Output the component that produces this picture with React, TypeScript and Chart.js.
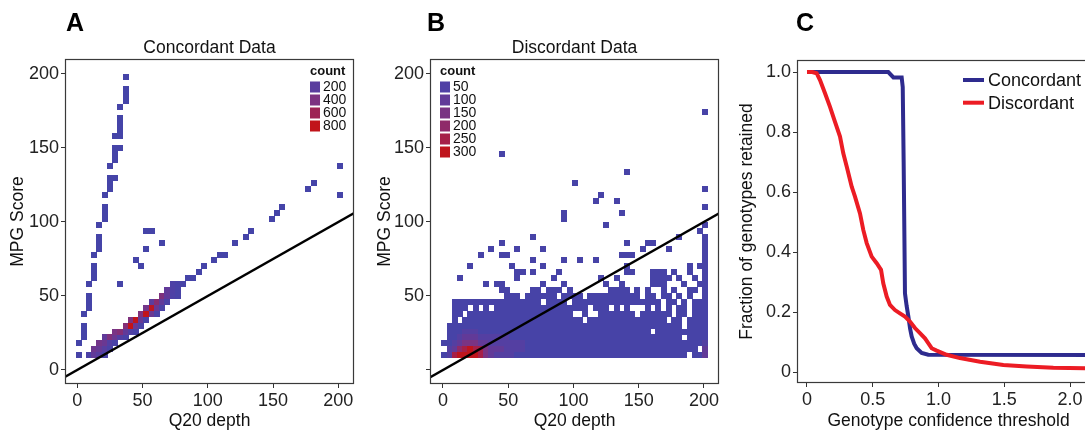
import React, { useEffect, useRef } from 'react';
import { Chart, registerables } from 'chart.js';

Chart.register(...registerables);

const FONT_FAMILY = '"Liberation Sans", Arial, Helvetica, sans-serif';

// ---------- Panels A & B : binned (Q20 depth, MPG score) counts ----------
// Bin centres along Q20 depth (one per grid column of panel B)
const DEPTH_BINS = [
  1, 5, 9, 13, 17, 21, 25, 29, 33, 37, 41, 45, 49, 53, 57, 61, 65, 69, 73, 77,
  81, 85, 89, 93, 97, 101, 105, 109, 113, 117, 121, 125, 129, 133, 137, 141, 145, 149, 153, 157,
  161, 165, 169, 173, 177, 181, 185, 189, 193, 197, 201,
];

// Concordant data (panel A): [Q20 depth, MPG score, count]
const CONC_CELLS: number[][] = [
  // steep arm
  [1, 10, 25], [1, 18, 12], [5, 22, 12], [5, 26, 12], [5, 30, 12], [5, 38, 12],
  [9, 42, 12], [9, 46, 12], [9, 50, 12], [9, 58, 12], [13, 62, 12], [13, 66, 12],
  [13, 70, 12], [13, 78, 12], [17, 82, 12], [17, 86, 12], [17, 90, 12], [17, 98, 12],
  [21, 102, 12], [21, 106, 12], [21, 110, 12], [21, 118, 12], [25, 122, 12], [25, 126, 12],
  [25, 130, 12], [29, 130, 12], [25, 138, 12], [29, 142, 12], [29, 146, 12], [29, 150, 12],
  [33, 150, 12], [29, 158, 12], [33, 158, 12], [33, 162, 12], [33, 166, 12], [33, 170, 12],
  [33, 178, 12], [37, 182, 12], [37, 186, 12], [37, 190, 12], [37, 198, 12],
  // scattered middle cells
  [33, 58, 10], [45, 74, 10], [49, 70, 10], [53, 82, 10], [53, 94, 10], [57, 94, 10], [65, 86, 10],
  // dense diagonal band
  [9, 10, 90], [13, 10, 250], [17, 10, 180], [21, 10, 60],
  [13, 14, 320], [17, 14, 280], [21, 14, 180], [25, 14, 70],
  [17, 18, 350], [21, 18, 300], [25, 18, 150], [29, 18, 50],
  [21, 22, 250], [25, 22, 420], [29, 22, 300], [33, 22, 150], [37, 22, 50],
  [29, 26, 380], [33, 26, 450], [37, 26, 250], [41, 26, 120], [45, 26, 40],
  [37, 30, 450], [41, 30, 820], [45, 30, 300], [49, 30, 80],
  [41, 34, 420], [45, 34, 780], [49, 34, 280], [53, 34, 60],
  [49, 38, 420], [53, 38, 800], [57, 38, 300], [61, 38, 80],
  [53, 42, 350], [57, 42, 760], [61, 42, 300], [65, 42, 80],
  [57, 46, 200], [61, 46, 480], [65, 46, 250], [69, 46, 80],
  [65, 50, 420], [69, 50, 250], [73, 50, 100], [77, 50, 40],
  [69, 54, 250], [73, 54, 120], [77, 54, 40],
  [73, 58, 100], [77, 58, 60], [81, 58, 40],
  // upper diagonal
  [85, 62, 10], [89, 62, 10], [93, 66, 10], [97, 70, 10], [105, 74, 10], [109, 78, 10],
  [113, 78, 10], [121, 86, 10], [129, 90, 10], [133, 94, 10], [149, 102, 10], [153, 106, 10],
  [157, 110, 10], [177, 122, 10], [181, 126, 10], [201, 118, 10], [201, 138, 10],
];

// Discordant data (panel B): one string per score row (top row first),
// one character per depth bin; '.' = empty, digits = count level
const DISC_ROW_SCORES = [
  174, 170, 166, 162, 158, 154, 150, 146, 142, 138, 134, 130, 126, 122, 118, 114, 110, 106, 102, 98, 94,
  90, 86, 82, 78, 74, 70, 66, 62, 58, 54, 50, 46, 42, 38, 34, 30, 26, 22, 18, 14, 10,
];
const DISC_ROWS = [
  '.......... .......... .......... .......... .......... 1',
  '.......... .......... .......... .......... .......... .',
  '.......... .......... .......... .......... .......... .',
  '.......... .......... .......... .......... .......... .',
  '.......... .......... .......... .......... .......... .',
  '.......... .......... .......... .......... .......... .',
  '.......... .......... .......... .......... .......... .',
  '.......... .1........ .......... .......... .......... .',
  '.......... .......... .......... .......... .......... .',
  '.......... .......... .......... .......... .......... .',
  '.......... .......... .......... .....1.... .......... .',
  '.......... .......... .......... .......... .......... .',
  '.......... .......... .....1.... .......... .......... .',
  '.......... .......... .......... .......... .......... 1',
  '.......... .......... .......... 1......... .......... .',
  '.......... .......... .........1 ...1...... .......... .',
  '.......... .......... .......... .......... .......... 1',
  '.......... .......... ...1...... ....1..... .......... .',
  '.......... .......... ...1...... .......... .......... .',
  '.......... .......... .......... .1........ .......... 1',
  '.......... .......... .......... .......... .........1 .',
  '.......... .......1.. .......... .......... .....1.... 1',
  '.......... .1........ .......... .....1...1 1......... 1',
  '.........1 ....1....1 .......... ........1. ...1...... 1',
  '.......1.. .11....... .......... ....111... .......... 1',
  '.......... .......1.. ...1..1..1 .......... .......... 1',
  '.....1.... ...1.....1 .......... .....1.... .......1.1 1',
  '.......... ....11.1.. ..1....... .....11... 111.1..1.. 1',
  '...1...... ....1..... .1........ 1..1...... 1111.1..1. 1',
  '........1. 11.......1 ...1...... .1..1..... 111...1..1 1',
  '.......... .11....11. 111.1..... ..1111.1.1 ..1.1..11. 1',
  '.......... ..111.1111 11.1111.11 11111111.1 1.11.1.1.. 1',
  '..11111111 111111111. 1111.11111 1111111111 11.11.1.11 1',
  '..111.1.1. 1111111111 11111111.1 11.1.1...1 .1.1.11.11 1',
  '..11.11111 1111111111 11111..1.. 1111111.11 1111.11.11 1',
  '..1.111111 1111111111 1111111.11 1111111111 111.11.111 1',
  '.111111111 1111111111 1111111111 1111111111 111111.111 1',
  '.111222111 1111111111 1111111111 1111111111 .111111111 1',
  '.112333222 2221111111 1111111111 1111111111 111111.111 1',
  '1123444332 2222221111 1111111111 1111111111 1111111111 2',
  '.235676643 3322221111 1111111111 1111111111 111111111. 3',
  '1267777643 2222111111 1111111111 1111111111 1111111.11 3',
];
const DISC_LEVEL_COUNTS: Record<string, number> = {
  '1': 12, '2': 60, '3': 100, '4': 150, '5': 200, '6': 250, '7': 300,
};

const CONC_MAX_COUNT = 860;
const DISC_MAX_COUNT = 330;
const CONC_LEGEND = [200, 400, 600, 800];
const DISC_LEGEND = [50, 100, 150, 200, 250, 300];

const DEPTH_TICKS = [0, 50, 100, 150, 200];
const DEPTH_LABELS = ['0', '50', '100', '150', '200'];
const SCORE_TICKS = [0, 50, 100, 150, 200];
const CONC_SCORE_LABELS = ['0', '50', '100', '150', '200'];
const DISC_SCORE_LABELS = ['', '50', '100', '150', '200'];

// threshold line: MPG score = Q20 depth / 2
const CUTOFF_SLOPE = 0.5;
const CUTOFF_DEPTH = [-20, 230];

// ---------- Panel C ----------
const THRESH_TICKS = [0, 0.5, 1, 1.5, 2];
const THRESH_LABELS = ['0', '0.5', '1.0', '1.5', '2.0'];
const FRAC_TICKS = [0, 0.2, 0.4, 0.6, 0.8, 1];
const FRAC_LABELS = ['0', '0.2', '0.4', '0.6', '0.8', '1.0'];

const CONC_THRESH = [0, 0.618, 0.657, 0.72, 0.728, 0.735, 0.745, 0.758, 0.771, 0.784, 0.796, 0.815, 0.834, 0.872, 0.922, 2.25];
const CONC_FRAC = [1, 1, 0.982, 0.982, 0.95, 0.7, 0.263, 0.22, 0.185, 0.145, 0.119, 0.095, 0.08, 0.064, 0.058, 0.057];

const DISC_THRESH = [
  0, 0.04, 0.073, 0.099, 0.137, 0.175, 0.213, 0.251, 0.276, 0.302, 0.34, 0.365, 0.403, 0.428, 0.454,
  0.492, 0.53, 0.563, 0.58, 0.606, 0.631, 0.669, 0.707, 0.745, 0.783, 0.821, 0.859, 0.897, 0.922,
  0.948, 0.986, 1.062, 1.163, 1.316, 1.493, 1.671, 1.873, 2.114, 2.25,
];
const DISC_FRAC = [
  1, 1, 0.996, 0.973, 0.929, 0.884, 0.834, 0.785, 0.729, 0.685, 0.618, 0.585, 0.529, 0.474, 0.43,
  0.385, 0.363, 0.341, 0.296, 0.252, 0.224, 0.207, 0.196, 0.185, 0.169, 0.147, 0.13, 0.113, 0.097,
  0.08, 0.072, 0.058, 0.047, 0.035, 0.024, 0.019, 0.015, 0.013, 0.013,
];

const CONC_LINE_COLOR = '#2E2B8E';
const DISC_LINE_COLOR = '#EC1C24';

// ---------- helpers ----------
const RAMP: [number, number[]][] = [
  [0, [68, 68, 168]],
  [0.15, [80, 64, 165]],
  [0.3, [98, 58, 152]],
  [0.45, [122, 52, 132]],
  [0.6, [142, 42, 106]],
  [0.75, [165, 32, 74]],
  [0.9, [190, 22, 30]],
  [1, [200, 16, 16]],
];

function countColor(count: number, max: number): string {
  const t = Math.max(0, Math.min(1, (count - 1) / (max - 1)));
  for (let k = 1; k < RAMP.length; k++) {
    const [t1, c1] = RAMP[k];
    const [t0, c0] = RAMP[k - 1];
    if (t <= t1) {
      const f = (t - t0) / (t1 - t0);
      const c = c0.map((v, i) => Math.round(v + (c1[i] - v) * f));
      return `rgb(${c[0]},${c[1]},${c[2]})`;
    }
  }
  return 'rgb(200,16,16)';
}

type Cell = { x: number; y: number; count: number };

const concCells: Cell[] = CONC_CELLS.map(([x, y, count]) => ({ x, y, count }));
const discCells: Cell[] = [];
DISC_ROWS.forEach((row, r) => {
  const chars = row.replace(/ /g, '');
  for (let k = 0; k < chars.length && k < DEPTH_BINS.length; k++) {
    const ch = chars[k];
    if (ch !== '.') discCells.push({ x: DEPTH_BINS[k], y: DISC_ROW_SCORES[r], count: DISC_LEVEL_COUNTS[ch] });
  }
});

// square tile used as point style for one heat-map bin
const CELL_W = 6;
const CELL_H = 6;
const tileCache = new Map<string, HTMLCanvasElement>();
function cellTile(color: string): HTMLCanvasElement {
  let c = tileCache.get(color);
  if (!c) {
    c = document.createElement('canvas');
    c.width = CELL_W;
    c.height = CELL_H;
    const g = c.getContext('2d') as CanvasRenderingContext2D;
    g.fillStyle = color;
    g.fillRect(0, 0, CELL_W, CELL_H);
    tileCache.set(color, c);
  }
  return c;
}

const TICK_FONT = { family: FONT_FAMILY, size: 18 };
const TITLE_FONT = { family: FONT_FAMILY, size: 17.5, weight: 'normal' as const };
const TICK_COLOR = '#222';
const TITLE_COLOR = '#111';

const panelBorder = {
  id: 'panelBorder',
  afterDraw(chart: any) {
    const { ctx, chartArea: a } = chart;
    ctx.save();
    ctx.strokeStyle = '#3a3a3a';
    ctx.lineWidth = 1.2;
    ctx.strokeRect(Math.round(a.left) + 0.5, Math.round(a.top) + 0.5, Math.round(a.right - a.left) - 1, Math.round(a.bottom - a.top) - 1);
    ctx.restore();
  },
};

function countLegend(levels: number[], max: number, side: 'left' | 'right') {
  return {
    id: 'countLegend',
    afterDraw(chart: any) {
      const { ctx, chartArea: a } = chart;
      const x0 = side === 'left' ? a.left + 10 : a.right - 44;
      ctx.save();
      ctx.textAlign = 'left';
      ctx.textBaseline = 'middle';
      ctx.fillStyle = '#111';
      ctx.font = `bold 13px ${FONT_FAMILY}`;
      ctx.fillText('count', x0, a.top + 12.5);
      ctx.font = `14px ${FONT_FAMILY}`;
      levels.forEach((lv, k) => {
        const cy = a.top + 28 + k * 13;
        ctx.fillStyle = countColor(lv, max);
        ctx.fillRect(x0, cy - 5.5, 10, 11);
        ctx.fillStyle = '#111';
        ctx.fillText(String(lv), x0 + 13, cy + 0.5);
      });
      ctx.restore();
    },
  };
}

const lineLegend = {
  id: 'lineLegend',
  afterDraw(chart: any) {
    const { ctx, chartArea: a } = chart;
    const items = chart.data.datasets.map((d: any) => ({ label: d.label, color: d.borderColor }));
    ctx.save();
    ctx.font = `18px ${FONT_FAMILY}`;
    ctx.textAlign = 'left';
    ctx.textBaseline = 'middle';
    items.forEach((it: any, k: number) => {
      const cy = a.top + 20 + k * 22.7;
      ctx.strokeStyle = it.color;
      ctx.lineWidth = 4;
      ctx.beginPath();
      ctx.moveTo(a.left + 166, cy);
      ctx.lineTo(a.left + 187, cy);
      ctx.stroke();
      ctx.fillStyle = '#111';
      ctx.fillText(it.label, a.left + 191, cy + 1);
    });
    ctx.restore();
  },
};

function axisBase() {
  return {
    type: 'linear' as const,
    border: { display: false },
    grid: { drawOnChartArea: false, drawTicks: true, tickLength: 4, color: '#333', lineWidth: 1 },
  };
}

function heatmapConfig(p: {
  cells: Cell[];
  max: number;
  title: string;
  yLabels: string[];
  legendLevels: number[];
  legendSide: 'left' | 'right';
  xMin: number;
  xMax: number;
  padRight: number;
  yTitlePad: number;
}): any {
  return {
    type: 'scatter',
    data: {
      datasets: [
        {
          type: 'line',
          data: CUTOFF_DEPTH.map((d) => ({ x: d, y: d * CUTOFF_SLOPE })),
          borderColor: '#000',
          borderWidth: 2.4,
          pointRadius: 0,
          fill: false,
          showLine: true,
          clip: 0,
          order: 0,
        },
        {
          type: 'scatter',
          data: p.cells.map((c) => ({ x: c.x, y: c.y })),
          pointStyle: p.cells.map((c) => cellTile(countColor(c.count, p.max))),
          pointRadius: 3,
          pointBorderWidth: 0,
          pointBackgroundColor: p.cells.map((c) => countColor(c.count, p.max)),
          order: 1,
        },
      ],
    },
    options: {
      responsive: false,
      animation: false,
      events: [],
      layout: { padding: { left: 0, right: p.padRight, top: 0, bottom: 0 } },
      plugins: {
        legend: { display: false },
        tooltip: { enabled: false },
        title: {
          display: true,
          text: p.title,
          fullSize: false,
          color: TITLE_COLOR,
          font: TITLE_FONT,
          padding: { top: 37.5, bottom: 0.5 },
        },
      },
      scales: {
        x: {
          ...axisBase(),
          min: p.xMin,
          max: p.xMax,
          afterBuildTicks: (s: any) => { s.ticks = DEPTH_TICKS.map((v) => ({ value: v })); },
          afterFit: (s: any) => { s.height = 48; },
          ticks: {
            autoSkip: false, maxRotation: 0, minRotation: 0, padding: 2,
            color: TICK_COLOR, font: TICK_FONT,
            callback: (_v: any, i: number) => DEPTH_LABELS[i],
          },
          title: { display: true, text: 'Q20 depth', color: TITLE_COLOR, font: TITLE_FONT, padding: { top: 0, bottom: 0 } },
        },
        y: {
          ...axisBase(),
          min: -9.46,
          max: 210.1,
          afterBuildTicks: (s: any) => { s.ticks = SCORE_TICKS.map((v) => ({ value: v })); },
          afterFit: (s: any) => { s.width = 65; },
          ticks: {
            autoSkip: false, padding: 2, color: TICK_COLOR, font: TICK_FONT,
            callback: (_v: any, i: number) => p.yLabels[i],
          },
          title: { display: true, text: 'MPG Score', color: TITLE_COLOR, font: TITLE_FONT, padding: { top: p.yTitlePad, bottom: 0 } },
        },
      },
    },
    plugins: [panelBorder, countLegend(p.legendLevels, p.max, p.legendSide)],
  };
}

function retentionConfig(): any {
  return {
    type: 'line',
    data: {
      datasets: [
        {
          label: 'Concordant',
          data: CONC_THRESH.map((x, i) => ({ x, y: CONC_FRAC[i] })),
          borderColor: CONC_LINE_COLOR,
          borderWidth: 4,
          pointRadius: 0,
          tension: 0,
          fill: false,
          clip: 0,
          order: 1,
        },
        {
          label: 'Discordant',
          data: DISC_THRESH.map((x, i) => ({ x, y: DISC_FRAC[i] })),
          borderColor: DISC_LINE_COLOR,
          borderWidth: 4,
          pointRadius: 0,
          tension: 0,
          fill: false,
          clip: 0,
          order: 0,
        },
      ],
    },
    options: {
      responsive: false,
      animation: false,
      events: [],
      layout: { padding: { left: 0, right: 5, top: 60, bottom: 0 } },
      plugins: { legend: { display: false }, tooltip: { enabled: false }, title: { display: false } },
      scales: {
        x: {
          ...axisBase(),
          min: -0.076,
          max: 2.228,
          afterBuildTicks: (s: any) => { s.ticks = THRESH_TICKS.map((v) => ({ value: v })); },
          afterFit: (s: any) => { s.height = 49; },
          ticks: {
            autoSkip: false, maxRotation: 0, minRotation: 0, padding: 2,
            color: TICK_COLOR, font: TICK_FONT,
            callback: (_v: any, i: number) => THRESH_LABELS[i],
          },
          title: { display: true, text: 'Genotype confidence threshold', color: TITLE_COLOR, font: TITLE_FONT, padding: { top: 0, bottom: 0 } },
        },
        y: {
          ...axisBase(),
          min: -0.036,
          max: 1.04,
          afterBuildTicks: (s: any) => { s.ticks = FRAC_TICKS.map((v) => ({ value: v })); },
          afterFit: (s: any) => { s.width = 70; },
          ticks: {
            autoSkip: false, padding: 2, color: TICK_COLOR, font: TICK_FONT,
            callback: (_v: any, i: number) => FRAC_LABELS[i],
          },
          title: { display: true, text: 'Fraction of genotypes retained', color: TITLE_COLOR, font: TITLE_FONT, padding: { top: 9.5, bottom: 0 } },
        },
      },
    },
    plugins: [panelBorder, lineLegend],
  };
}

const letterStyle = (left: number): React.CSSProperties => ({
  position: 'absolute',
  left,
  top: 10,
  fontFamily: FONT_FAMILY,
  fontWeight: 'bold',
  fontSize: 25,
  lineHeight: '25px',
  color: '#000',
});

export default function App() {
  const refA = useRef<HTMLCanvasElement>(null);
  const refB = useRef<HTMLCanvasElement>(null);
  const refC = useRef<HTMLCanvasElement>(null);

  useEffect(() => {
    const charts = [
      new Chart(refA.current as HTMLCanvasElement, heatmapConfig({
        cells: concCells, max: CONC_MAX_COUNT, title: 'Concordant Data', yLabels: CONC_SCORE_LABELS,
        legendLevels: CONC_LEGEND, legendSide: 'right', xMin: -9.43, xMax: 212.0, padRight: 16, yTitlePad: 7.5,
      })),
      new Chart(refB.current as HTMLCanvasElement, heatmapConfig({
        cells: discCells, max: DISC_MAX_COUNT, title: 'Discordant Data', yLabels: DISC_SCORE_LABELS,
        legendLevels: DISC_LEGEND, legendSide: 'left', xMin: -9.96, xMax: 211.5, padRight: 10, yTitlePad: 9.5,
      })),
      new Chart(refC.current as HTMLCanvasElement, retentionConfig()),
    ];
    return () => charts.forEach((c) => c.destroy());
  }, []);

  return (
    <div style={{ position: 'fixed', left: 0, top: 0, width: 1085, height: 432, overflow: 'hidden', background: '#fff' }}>
      <canvas ref={refA} width={370} height={432} style={{ position: 'absolute', left: 0, top: 0, width: 370, height: 432 }} />
      <canvas ref={refB} width={364} height={432} style={{ position: 'absolute', left: 365, top: 0, width: 364, height: 432 }} />
      <canvas ref={refC} width={378} height={432} style={{ position: 'absolute', left: 727, top: 0, width: 378, height: 432 }} />
      <div style={letterStyle(66)}>A</div>
      <div style={letterStyle(427)}>B</div>
      <div style={letterStyle(796)}>C</div>
    </div>
  );
}
